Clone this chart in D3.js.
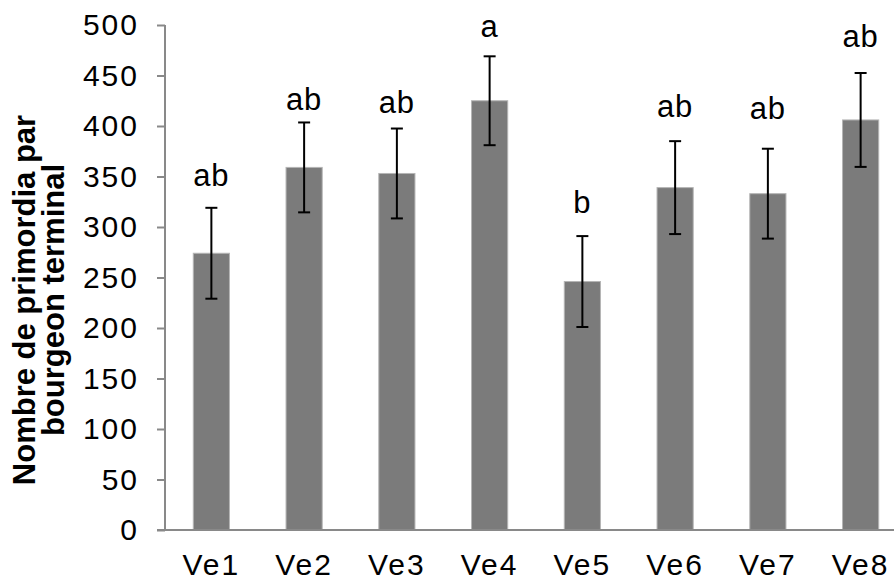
<!DOCTYPE html>
<html>
<head>
<meta charset="utf-8">
<script src="https://cdn.jsdelivr.net/npm/d3@7"></script>
<style>
  body { margin: 0; background: #fff; }
  svg { display: block; font-family: "Liberation Sans", Arial, sans-serif; }
</style>
</head>
<body>
<div id="chart"></div>
<script>
// Data
var categories  = ["Ve1", "Ve2", "Ve3", "Ve4", "Ve5", "Ve6", "Ve7", "Ve8"];
var means       = [274, 359, 353, 425, 246, 339, 333, 406];
var errors      = [45, 44.5, 44.5, 44, 45, 46, 44.5, 46.5];
var letters     = ["ab", "ab", "ab", "a", "b", "ab", "ab", "ab"];
var letterAt    = [341, 416, 413, 488, 314, 409, 407, 478];   // where each letter sits, in y units
var yTicks      = [0, 50, 100, 150, 200, 250, 300, 350, 400, 450, 500];

// Size
var chart_width  = 894;
var chart_height = 580;
var axisColor    = "#898989";

var svg = d3.select("#chart")
    .append("svg")
    .attr("width", chart_width)
    .attr("height", chart_height);

// Scales
var x = d3.scaleBand()
    .domain(categories)
    .range([165, 907])
    .padding(0);

var y = d3.scaleLinear()
    .domain([0, 500])
    .range([530, 25]);

var barW = x.bandwidth() * 0.39;

// Bars
svg.selectAll("rect.bar")
    .data(means)
    .enter()
    .append("rect")
    .attr("class", "bar")
    .attr("x", (d, i) => x(categories[i]) + x.bandwidth() / 2 - barW / 2)
    .attr("y", d => y(d))
    .attr("width", barW)
    .attr("height", d => y(0) - y(d))
    .style("fill", "#7b7b7b")
    .style("stroke", "#b5b5b5")
    .style("stroke-width", 1);

// Error bars
var err = svg.selectAll("g.err")
    .data(means)
    .enter()
    .append("g")
    .attr("class", "err")
    .style("stroke", "#000")
    .style("stroke-width", 2);

err.append("line")
    .attr("x1", (d, i) => x(categories[i]) + x.bandwidth() / 2)
    .attr("x2", (d, i) => x(categories[i]) + x.bandwidth() / 2)
    .attr("y1", (d, i) => y(d + errors[i]))
    .attr("y2", (d, i) => y(d - errors[i]));

[1, -1].forEach(function (s) {
    err.append("line")
        .attr("x1", (d, i) => x(categories[i]) + x.bandwidth() / 2 - 6)
        .attr("x2", (d, i) => x(categories[i]) + x.bandwidth() / 2 + 6)
        .attr("y1", (d, i) => y(d + s * errors[i]))
        .attr("y2", (d, i) => y(d + s * errors[i]));
});

// Letters
svg.selectAll("text.letter")
    .data(letters)
    .enter()
    .append("text")
    .attr("class", "letter")
    .attr("x", (d, i) => x(categories[i]) + x.bandwidth() / 2)
    .attr("y", (d, i) => y(letterAt[i]))
    .attr("text-anchor", "middle")
    .style("font-size", "31px")
    .style("letter-spacing", "1px")
    .style("fill", "#000")
    .text(d => d);

// Y axis
var yAxis = svg.append("g")
    .attr("transform", "translate(165,0)")
    .call(d3.axisLeft(y).tickValues(yTicks).tickSize(8).tickPadding(18));
yAxis.select(".domain").remove();
yAxis.append("line")
    .attr("x1", 0).attr("x2", 0)
    .attr("y1", y(500)).attr("y2", y(0));
yAxis.selectAll("line")
    .style("stroke", axisColor)
    .style("stroke-width", 2);
yAxis.selectAll("text")
    .style("font-size", "30px")
    .style("letter-spacing", "2px")
    .style("font-family", "'Liberation Sans', Arial, sans-serif")
    .style("fill", "#000");

// X axis
var xAxis = svg.append("g")
    .attr("transform", "translate(0," + y(0) + ")")
    .call(d3.axisBottom(x).tickSize(0).tickPadding(24));
xAxis.select(".domain").remove();
xAxis.append("line")
    .attr("x1", 157).attr("x2", chart_width)
    .attr("y1", 0).attr("y2", 0)
    .style("stroke", axisColor)
    .style("stroke-width", 2);
xAxis.selectAll("text")
    .style("font-size", "30px")
    .style("letter-spacing", "2px")
    .style("font-family", "'Liberation Sans', Arial, sans-serif")
    .style("fill", "#000");

// Y axis title
var title = svg.append("text")
    .attr("transform", "translate(35,300) rotate(-90)")
    .attr("text-anchor", "middle")
    .style("font-size", "31px")
    .style("font-weight", "bold")
    .style("fill", "#000");
title.append("tspan").attr("x", 0).attr("dy", 0).text("Nombre de primordia par");
title.append("tspan").attr("x", 0).attr("dy", 29).text("bourgeon terminal");
</script>
</body>
</html>
